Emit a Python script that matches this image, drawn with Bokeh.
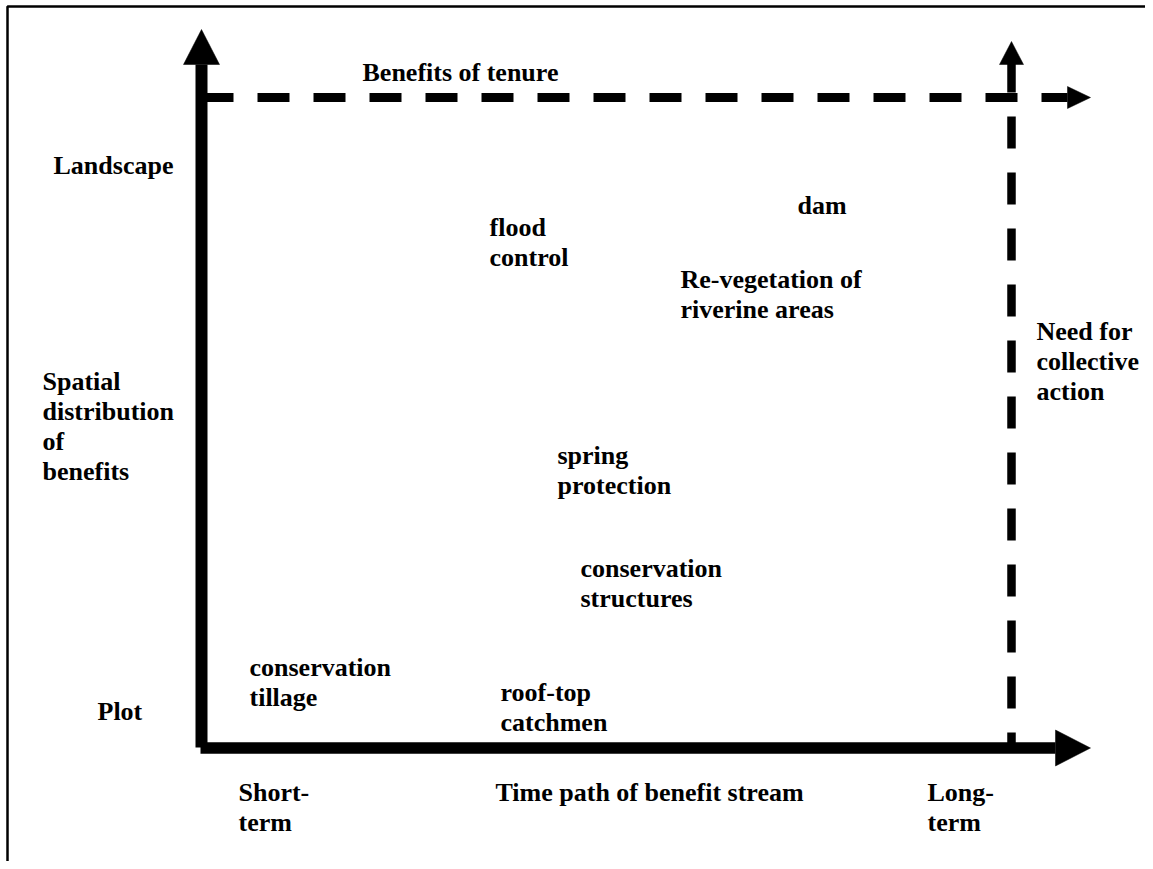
from bokeh.plotting import figure
from bokeh.models import Range1d, ColumnDataSource
from bokeh.core.properties import value
from bokeh.embed import file_html
from bokeh.resources import INLINE

# ---- diagram data (units: px offsets from the axis origin, y upwards) ----
item_labels = ["conservation\ntillage", "roof-top\ncatchmen", "flood\ncontrol", "dam",
               "Re-vegetation of\nriverine areas", "spring\nprotection",
               "conservation\nstructures"]
item_x = [48, 299, 288, 596, 479, 356, 379]
item_y = [80, 55, 520, 542, 468, 292, 179]

axis_labels = ["Landscape", "Spatial\ndistribution\nof\nbenefits", "Plot",
               "Short-\nterm", "Time path of benefit stream", "Long-\nterm",
               "Benefits of tenure", "Need for\ncollective\naction"]
axis_label_x = [-148, -159, -104, 37, 294, 726, 161, 835]
axis_label_y = [582, 366, 36, -45, -45, -45, 675, 416]

# arrows: line from (x0,y0) to (x1,y1), head tip, head length, head half width
arrow_names = ["space", "time", "tenure", "collective"]
arrow_x0 = [0, -1, 0, 810]
arrow_y0 = [0, -0.5, 650, 687]
arrow_x1 = [0, 854, 866, 810]
arrow_y1 = [683, -0.5, 650, 1]
arrow_tip_x = [0, 889, 889, 810]
arrow_tip_y = [718, -0.5, 650, 706]
arrow_head_len = [35, 35, 23, 23]
arrow_head_half = [18, 18, 11, 12]
arrow_width = [12, 11.5, 9, 8.5]
arrow_dash = ["solid", "solid", "32 24", "32 24"]

frame_x = [-194, -194, 952]
frame_y = [-130, 741, 741]

LINE_STEP = 30
FONT = value("Liberation Serif")

W, H = 1145, 861
p = figure(width=W, height=H, output_backend="svg", toolbar_location=None,
           x_range=Range1d(-201, -201 + W), y_range=Range1d(747 - H, 747),
           min_border=0)
p.axis.visible = False
p.grid.visible = False
p.outline_line_color = None
p.background_fill_color = "white"
p.border_fill_color = "white"

# frame
p.line(frame_x, frame_y, line_color="black", line_width=2.5)

# arrows
for i in range(len(arrow_names)):
    p.line([arrow_x0[i], arrow_x1[i]], [arrow_y0[i], arrow_y1[i]],
           line_color="black", line_width=arrow_width[i],
           line_dash=arrow_dash[i], line_cap="butt")
    tx, ty = arrow_tip_x[i], arrow_tip_y[i]
    dx, dy = tx - arrow_x1[i], ty - arrow_y1[i]
    n = (dx * dx + dy * dy) ** 0.5
    if n == 0:
        dx, dy = 0, 1
    else:
        dx, dy = dx / n, dy / n
    bx, by = tx - arrow_head_len[i] * dx, ty - arrow_head_len[i] * dy
    nx, ny = -dy, dx
    hw = arrow_head_half[i]
    p.patch([tx, bx + hw * nx, bx - hw * nx], [ty, by + hw * ny, by - hw * ny],
            fill_color="black", line_color="black", line_width=0.5)

# texts
def add_texts(labels, xs, ys):
    tx, ty, tt = [], [], []
    for lab, x, y in zip(labels, xs, ys):
        for j, line in enumerate(lab.split("\n")):
            tx.append(x)
            ty.append(y - j * LINE_STEP)
            tt.append(line)
    src = ColumnDataSource(dict(x=tx, y=ty, text=tt))
    p.text(x="x", y="y", text="text", source=src, text_font=FONT,
           text_font_style="bold", text_font_size="26px", text_color="black",
           text_align="left", text_baseline="alphabetic")

add_texts(item_labels, item_x, item_y)
add_texts(axis_labels, axis_label_x, axis_label_y)

open("out.html", "w").write(file_html(p, INLINE))
